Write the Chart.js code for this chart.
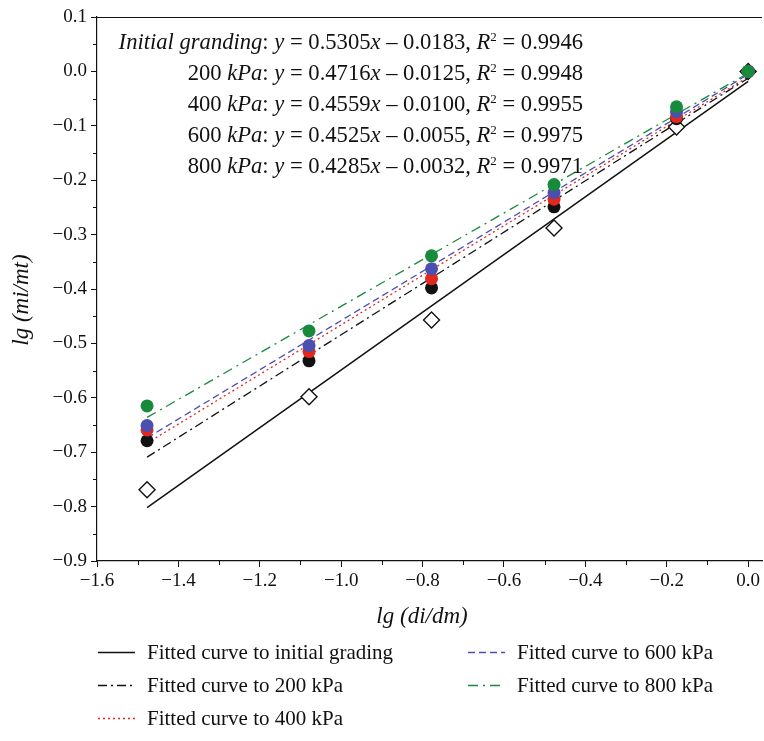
<!DOCTYPE html>
<html>
<head>
<meta charset="utf-8">
<title>lg(mi/mt) vs lg(di/dm)</title>
<script src="https://cdn.jsdelivr.net/npm/chart.js@4/dist/chart.umd.min.js"></script>
<style>
  html, body { margin: 0; padding: 0; background: #fff; }
  #wrap { width: 764px; height: 741px; position: relative; }
</style>
</head>
<body>
<div id="wrap"><canvas id="myChart" width="764" height="741"></canvas></div>
<script>
// particle size ratio, lg(di/dm)
var xVals = [-1.477, -1.079, -0.778, -0.477, -0.176, 0];

// measured lg(mi/mt)
var initialY = [-0.769, -0.598, -0.457, -0.288, -0.102, 0];
var kpa200Y = [-0.679, -0.532, -0.398, -0.249, -0.087, 0];
var kpa400Y = [-0.659, -0.515, -0.381, -0.235, -0.083, 0];
var kpa600Y = [-0.651, -0.504, -0.363, -0.223, -0.074, 0];
var kpa800Y = [-0.615, -0.477, -0.339, -0.208, -0.065, 0];

// linear fits
var fitNames = ['Initial granding', '200', '400', '600', '800'];
var slopes = [0.5305, 0.4716, 0.4559, 0.4525, 0.4285];
var intercepts = [-0.0183, -0.0125, -0.0100, -0.0055, -0.0032];
var rSquared = [0.9946, 0.9948, 0.9955, 0.9975, 0.9971];

var xTicks = [-1.6, -1.4, -1.2, -1.0, -0.8, -0.6, -0.4, -0.2, 0.0];
var yTicks = [0.1, 0.0, -0.1, -0.2, -0.3, -0.4, -0.5, -0.6, -0.7, -0.8, -0.9];

var legendLabels = [
    'Fitted curve to initial grading',
    'Fitted curve to 200 kPa',
    'Fitted curve to 400 kPa',
    'Fitted curve to 600 kPa',
    'Fitted curve to 800 kPa'
];

var BLACK = '#111111';
var RED = '#e2271d';
var BLUE = '#4b4fb0';
var GREEN = '#178a3c';
var lineColors = [BLACK, BLACK, RED, BLUE, GREEN];
var lineDashes = [[], [9, 4, 2, 4], [2, 3], [7, 4], [10, 5, 2, 5]];

var SERIF = '"Liberation Serif", "DejaVu Serif", serif';

function pts(ys)
{
    return xVals.map(function (x, i) { return {x: x, y: ys[i]}; });
}

function fitLine(i)
{
    var x0 = xVals[0];
    var x1 = xVals[xVals.length - 1];
    return [
        {x: x0, y: slopes[i] * x0 + intercepts[i]},
        {x: x1, y: slopes[i] * x1 + intercepts[i]}
    ];
}

function fmtTick(v)
{
    var s = Math.abs(v).toFixed(1);
    return (v < -1e-9 ? '\u2212' : '') + s;
}

var datasets = [];

// measured points, green on top
var circles = [
    {ys: kpa800Y, color: GREEN, order: 1},
    {ys: kpa600Y, color: BLUE, order: 2},
    {ys: kpa400Y, color: RED, order: 3},
    {ys: kpa200Y, color: BLACK, order: 4}
];
circles.forEach(function (c) {
    datasets.push({
        data: pts(c.ys),
        showLine: false,
        pointStyle: 'circle',
        pointRadius: 6.5,
        pointBackgroundColor: c.color,
        pointBorderColor: c.color,
        pointBorderWidth: 0,
        order: c.order
    });
});

datasets.push({
    data: pts(initialY),
    showLine: false,
    pointStyle: 'rectRot',
    pointRadius: 8,
    pointBackgroundColor: '#ffffff',
    pointBorderColor: BLACK,
    pointBorderWidth: 1.4,
    order: 5
});

for (var i = 0; i < slopes.length; i++) {
    datasets.push({
        data: fitLine(i),
        showLine: true,
        pointRadius: 0,
        borderColor: lineColors[i],
        borderWidth: i === 0 ? 1.5 : 1.3,
        borderDash: lineDashes[i],
        fill: false,
        order: 10 + i
    });
}

// equations, axis titles, minor ticks and legend
var decorPlugin = {
    id: 'decor',
    afterDraw: function (chart) {
        var ctx = chart.ctx;
        var area = chart.chartArea;
        var xs = chart.scales.x;
        var ys = chart.scales.y;
        ctx.save();

        // top frame line
        ctx.strokeStyle = BLACK;
        ctx.lineWidth = 1.2;
        ctx.beginPath();
        ctx.moveTo(area.left, area.top + 0.5);
        ctx.lineTo(area.right, area.top + 0.5);
        ctx.stroke();

        // minor ticks
        ctx.lineWidth = 1;
        ctx.beginPath();
        for (var k = 0; k < xTicks.length - 1; k++) {
            var px = Math.round(xs.getPixelForValue((xTicks[k] + xTicks[k + 1]) / 2)) + 0.5;
            ctx.moveTo(px, area.bottom);
            ctx.lineTo(px, area.bottom + 4);
        }
        for (var k = 0; k < yTicks.length - 1; k++) {
            var py = Math.round(ys.getPixelForValue((yTicks[k] + yTicks[k + 1]) / 2)) + 0.5;
            ctx.moveTo(area.left, py);
            ctx.lineTo(area.left - 4, py);
        }
        ctx.stroke();

        // axis titles
        ctx.fillStyle = BLACK;
        ctx.font = 'italic 23px ' + SERIF;
        ctx.textAlign = 'center';
        ctx.textBaseline = 'middle';
        ctx.fillText('lg (di/dm)', 422, 617);
        ctx.save();
        ctx.translate(22, 300);
        ctx.rotate(-Math.PI / 2);
        ctx.fillText('lg (mi/mt)', 0, 0);
        ctx.restore();

        // fit equations, right aligned
        var size = 22.6;
        var right = 583;
        var baselines = [49, 80, 111, 142, 173];
        ctx.textBaseline = 'alphabetic';
        ctx.textAlign = 'left';
        for (var e = 0; e < slopes.length; e++) {
            var segs = [];
            if (e === 0) {
                segs.push({t: fitNames[e], it: true});
            } else {
                segs.push({t: fitNames[e] + ' ', it: false});
                segs.push({t: 'kPa', it: true});
            }
            segs.push({t: ': ', it: false});
            segs.push({t: 'y', it: true});
            segs.push({t: ' = ' + slopes[e].toFixed(4), it: false});
            segs.push({t: 'x', it: true});
            segs.push({t: ' \u2013 ' + Math.abs(intercepts[e]).toFixed(4) + ', ', it: false});
            segs.push({t: 'R', it: true});
            segs.push({t: '2', it: false, sup: true});
            segs.push({t: ' = ' + rSquared[e].toFixed(4), it: false});

            var total = 0;
            segs.forEach(function (s) {
                ctx.font = (s.it ? 'italic ' : '') + (s.sup ? 13 : size) + 'px ' + SERIF;
                s.w = ctx.measureText(s.t).width;
                total += s.w;
            });
            var cx = right - total;
            segs.forEach(function (s) {
                ctx.font = (s.it ? 'italic ' : '') + (s.sup ? 13 : size) + 'px ' + SERIF;
                ctx.fillText(s.t, cx, baselines[e] - (s.sup ? 8 : 0));
                cx += s.w;
            });
        }

        // legend
        var entries = [
            {col: 0, row: 0, idx: 0},
            {col: 0, row: 1, idx: 1},
            {col: 0, row: 2, idx: 2},
            {col: 1, row: 0, idx: 3},
            {col: 1, row: 1, idx: 4}
        ];
        var colX = [98, 468];
        var rowY = [652, 685, 718];
        ctx.font = '21px ' + SERIF;
        ctx.textBaseline = 'middle';
        entries.forEach(function (en) {
            var x0 = colX[en.col];
            var y0 = rowY[en.row] + 0.5;
            ctx.strokeStyle = lineColors[en.idx];
            ctx.lineWidth = 1.3;
            ctx.setLineDash(lineDashes[en.idx]);
            ctx.beginPath();
            ctx.moveTo(x0, y0);
            ctx.lineTo(x0 + 37, y0);
            ctx.stroke();
            ctx.setLineDash([]);
            ctx.fillStyle = BLACK;
            ctx.fillText(legendLabels[en.idx], x0 + 49, rowY[en.row] + 1);
        });

        ctx.restore();
    }
};

var ctx = document.getElementById('myChart').getContext('2d');
var myChart = new Chart(ctx, {
    type: 'scatter',
    data: {datasets: datasets},
    options: {
        responsive: false,
        animation: false,
        layout: {
            autoPadding: false,
            padding: {left: 0, right: 2, top: 17, bottom: 130}
        },
        plugins: {
            legend: {display: false},
            tooltip: {enabled: false}
        },
        scales: {
            x: {
                type: 'linear',
                min: -1.6,
                max: 0.034,
                afterBuildTicks: function (scale) {
                    scale.ticks = xTicks.map(function (v) { return {value: v}; });
                },
                afterFit: function (scale) {
                    scale.height = 50;
                    scale.paddingLeft = 0;
                    scale.paddingRight = 0;
                },
                grid: {
                    drawOnChartArea: false,
                    drawTicks: true,
                    tickLength: 6,
                    tickWidth: 1,
                    tickColor: BLACK
                },
                border: {display: true, color: BLACK, width: 1.2},
                ticks: {
                    color: BLACK,
                    padding: 3,
                    maxRotation: 0,
                    autoSkip: false,
                    font: {family: SERIF, size: 19},
                    callback: function (v) { return fmtTick(v); }
                }
            },
            y: {
                type: 'linear',
                min: -0.9,
                max: 0.1,
                afterBuildTicks: function (scale) {
                    scale.ticks = yTicks.map(function (v) { return {value: v}; });
                },
                afterFit: function (scale) {
                    scale.width = 97;
                    scale.paddingTop = 0;
                    scale.paddingBottom = 0;
                },
                grid: {
                    drawOnChartArea: false,
                    drawTicks: true,
                    tickLength: 6,
                    tickWidth: 1,
                    tickColor: BLACK
                },
                border: {display: true, color: BLACK, width: 1.2},
                ticks: {
                    color: BLACK,
                    padding: 4,
                    autoSkip: false,
                    font: {family: SERIF, size: 19},
                    callback: function (v) { return fmtTick(v); }
                }
            }
        }
    },
    plugins: [decorPlugin]
});
</script>
</body>
</html>
